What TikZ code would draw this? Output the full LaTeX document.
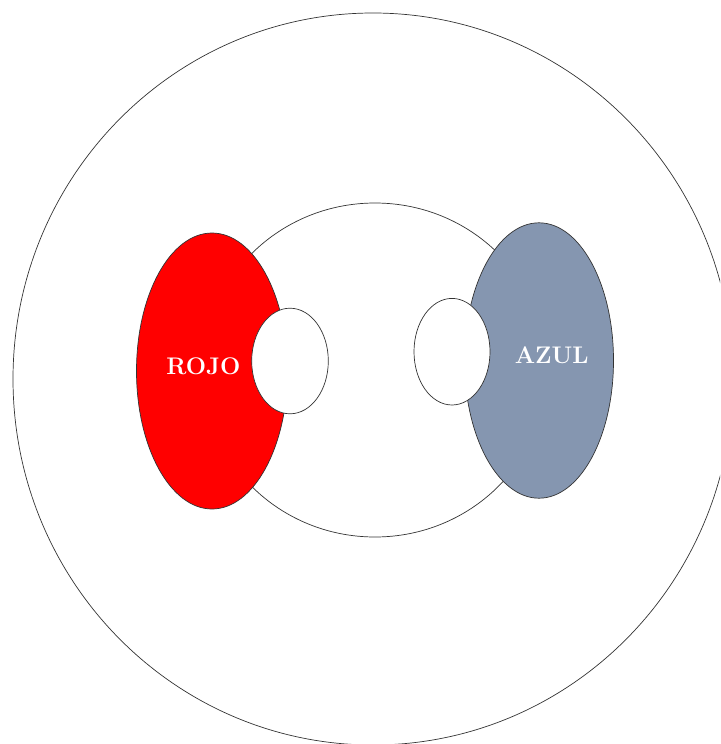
\documentclass[tikz,border=0pt]{standalone}
\definecolor{rojo}{RGB}{255,0,0}
\definecolor{azul}{RGB}{133,150,176}
\begin{document}
\begin{tikzpicture}[x=1pt,y=-1pt,
  outline/.style={draw=black!80, line width=0.7pt},
  tag/.style={text=white, anchor=base, inner sep=0pt,
    font=\fontsize{24}{24}\selectfont\bfseries}]
\useasboundingbox (0,0) rectangle (720,744);
\clip (0,0) rectangle (720,744);
% outer ring and middle ring
\draw[outline] (373,379) ellipse [x radius=360pt, y radius=366pt];
\draw[outline] (375,370) ellipse [x radius=172pt, y radius=167pt];
% coloured sets
\draw[outline, fill=rojo] (212,371) ellipse [x radius=75.5pt, y radius=138pt];
\draw[outline, fill=azul] (539,360.5) ellipse [x radius=74.5pt, y radius=137.7pt];
% holes
\draw[outline, fill=white] (290,361) ellipse [x radius=38.3pt, y radius=52.8pt];
\draw[outline, fill=white] (452,351.7) ellipse [x radius=38pt, y radius=53.3pt];
% labels
\node[tag] (rojo) at (203.4,374) {ROJO};
\node[tag] (azul) at (551.7,363.3) {AZUL};
\end{tikzpicture}
\end{document}
